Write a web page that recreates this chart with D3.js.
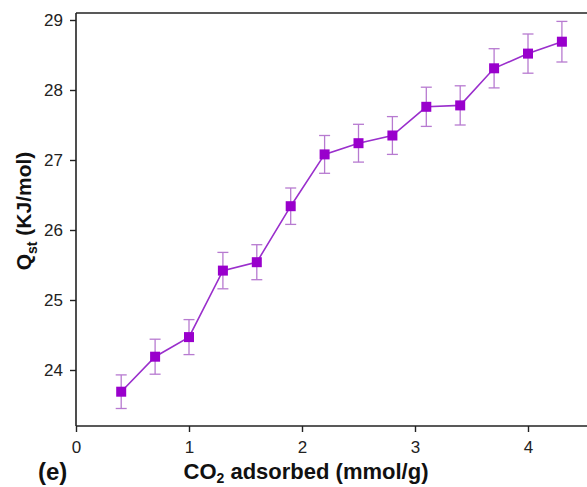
<!DOCTYPE html>
<html>
<head>
<meta charset="utf-8">
<script src="https://cdn.jsdelivr.net/npm/d3@7"></script>
<style>
	body { margin: 0; background: #fff; }
	text { font-family: "Liberation Sans", Arial, sans-serif; }
</style>
</head>
<body>
<div id="chart"></div>
<script>
var adsorbed = [0.4, 0.7, 1.0, 1.3, 1.6, 1.9, 2.2, 2.5, 2.8, 3.1, 3.4, 3.7, 4.0, 4.3];
var qst = [23.69, 24.19, 24.47, 25.42, 25.54, 26.34, 27.08, 27.24, 27.35, 27.76, 27.78, 28.31, 28.52, 28.69];
var qstErr = [0.24, 0.25, 0.25, 0.26, 0.25, 0.26, 0.27, 0.27, 0.27, 0.28, 0.28, 0.28, 0.28, 0.29];
var xTicks = [0, 1, 2, 3, 4];
var yTicks = [24, 25, 26, 27, 28, 29];

var margin = {top: 13, right: 0, bottom: 61, left: 76},
	width = 587,
	height = 487,
	plotW = 540,
	plotH = height - margin.top - margin.bottom;

var xScale = d3.scaleLinear().domain([0, plotW / 113]).range([0, plotW]);
var yScale = d3.scaleLinear().domain([23.2, 23.2 + plotH / 70]).range([plotH, 0]);

var svg = d3.select("#chart")
	.append("svg")
	.attr("width", width)
	.attr("height", height);

var g = svg.append("g")
	.attr("transform", "translate(" + margin.left + "," + margin.top + ")");

// frame: top border line
g.append("line")
	.attr("x1", 0).attr("x2", plotW)
	.attr("y1", 0).attr("y2", 0)
	.attr("stroke", "#222")
	.attr("stroke-width", 1.6);

var xAxis = g.append("g")
	.attr("transform", "translate(0," + plotH + ")")
	.call(d3.axisBottom(xScale).tickValues(xTicks).tickSize(6).tickPadding(9).tickFormat(d3.format("d")));

var yAxis = g.append("g")
	.call(d3.axisLeft(yScale).tickValues(yTicks).tickSize(6).tickPadding(7).tickFormat(d3.format("d")));

[xAxis, yAxis].forEach(function(ax) {
	ax.select(".domain").attr("stroke", "#222").attr("stroke-width", 1.6);
	ax.selectAll(".tick line").attr("stroke", "#222").attr("stroke-width", 1.4);
	ax.selectAll(".tick text")
		.attr("fill", "#222")
		.style("font-size", "17px")
		.style("font-family", "'Liberation Sans', Arial, sans-serif");
});
yAxis.select(".domain").attr("d", "M0," + plotH + "V0");
xAxis.select(".domain").attr("d", "M0,0H" + plotW);

// axis titles
var xTitle = svg.append("text")
	.attr("x", 306)
	.attr("y", 479)
	.attr("text-anchor", "middle")
	.style("font-size", "22px")
	.style("font-weight", "bold")
	.attr("fill", "#111");
xTitle.append("tspan").text("CO");
xTitle.append("tspan").attr("dy", 4).style("font-size", "14px").text("2");
xTitle.append("tspan").attr("dy", -4).text(" adsorbed (mmol/g)");

var yTitle = svg.append("text")
	.attr("transform", "translate(31,211) rotate(-90)")
	.attr("text-anchor", "middle")
	.style("font-size", "21px")
	.style("font-weight", "bold")
	.attr("fill", "#111");
yTitle.append("tspan").text("Q");
yTitle.append("tspan").attr("dy", 6).style("font-size", "14px").text("st");
yTitle.append("tspan").attr("dy", -6).text(" (KJ/mol)");

svg.append("text")
	.attr("x", 38)
	.attr("y", 480)
	.style("font-size", "24px")
	.style("font-weight", "bold")
	.attr("fill", "#111")
	.text("(e)");

var data = adsorbed.map(function(x, i) {
	return {x: x, y: qst[i], e: qstErr[i]};
});

// error bars
var errColor = "#b77ad0";
var cap = 5.5;
var bars = g.selectAll(".err")
	.data(data)
	.enter()
	.append("g")
	.attr("class", "err")
	.attr("stroke", errColor)
	.attr("stroke-width", 1.3);

bars.append("line")
	.attr("x1", function(d) { return xScale(d.x); })
	.attr("x2", function(d) { return xScale(d.x); })
	.attr("y1", function(d) { return yScale(d.y + d.e); })
	.attr("y2", function(d) { return yScale(d.y - d.e); });
bars.append("line")
	.attr("x1", function(d) { return xScale(d.x) - cap; })
	.attr("x2", function(d) { return xScale(d.x) + cap; })
	.attr("y1", function(d) { return yScale(d.y + d.e); })
	.attr("y2", function(d) { return yScale(d.y + d.e); });
bars.append("line")
	.attr("x1", function(d) { return xScale(d.x) - cap; })
	.attr("x2", function(d) { return xScale(d.x) + cap; })
	.attr("y1", function(d) { return yScale(d.y - d.e); })
	.attr("y2", function(d) { return yScale(d.y - d.e); });

// line
g.append("path")
	.datum(data)
	.attr("fill", "none")
	.attr("stroke", "#9a2fcc")
	.attr("stroke-width", 1.6)
	.attr("d", d3.line()
		.x(function(d) { return xScale(d.x); })
		.y(function(d) { return yScale(d.y); }));

// markers
var s = 10;
g.selectAll(".pt")
	.data(data)
	.enter()
	.append("rect")
	.attr("class", "pt")
	.attr("x", function(d) { return xScale(d.x) - s / 2; })
	.attr("y", function(d) { return yScale(d.y) - s / 2; })
	.attr("width", s)
	.attr("height", s)
	.attr("fill", "#9900cc");
</script>
</body>
</html>
